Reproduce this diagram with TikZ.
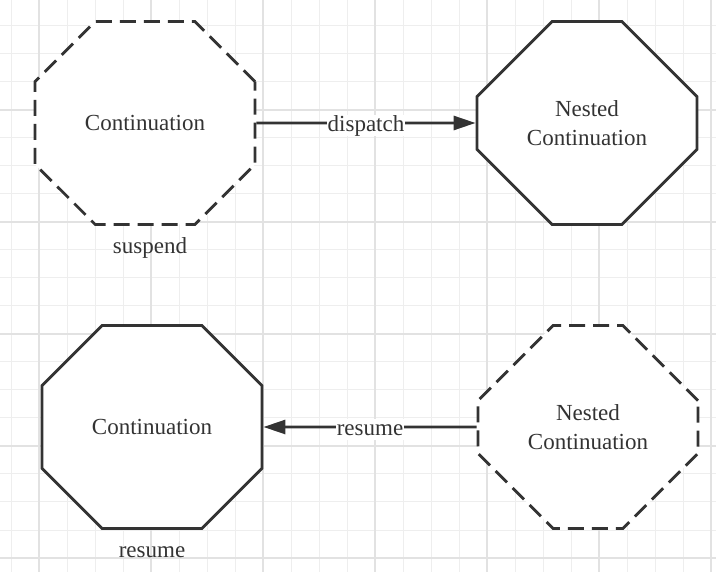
\documentclass[tikz,border=0pt]{standalone}
\usepackage{fontspec}
\setmainfont{Liberation Serif}
\usetikzlibrary{positioning,shapes.misc,arrows.meta}

\definecolor{inkgray}{HTML}{333333}
\definecolor{gridminor}{HTML}{EEEEEE}
\definecolor{gridmajor}{HTML}{E2E2E2}

\begin{document}
\begin{tikzpicture}[x=1pt, y=-1pt, >={Triangle[length=22pt,width=14pt]}]
      \tikzset{
	  octo/.style={chamfered rectangle, chamfered rectangle xsep=53.5pt, chamfered rectangle ysep=52.5pt, draw=inkgray, line width=2.8pt, fill=white, inner sep=0pt, minimum width=220pt, minimum height=203pt, text=inkgray, align=center, font=\fontsize{23}{29}\selectfont},
	  octodash/.style={octo, dash pattern=on 16pt off 8pt},
	  lbl/.style={text=inkgray, font=\fontsize{23}{29}\selectfont, inner sep=0pt, text height=16pt, text depth=5pt},
	  edgelbl/.style={lbl, fill=white, inner xsep=1pt, yshift=-3pt},
	  flow/.style={draw=inkgray, line width=2.8pt, ->}
      }

      \useasboundingbox (0,0) rectangle (716,572);
      %-----background grid
      \fill[white] (0,0) rectangle (716,572);
      \foreach \x in {11,39,...,711} \draw[gridminor, line width=1pt] (\x,0) -- (\x,572);
      \foreach \y in {26,54,...,570} \draw[gridminor, line width=1pt] (0,\y) -- (716,\y);
      \foreach \x in {39,151,...,711} \draw[gridmajor, line width=1.3pt] (\x,0) -- (\x,572);
      \foreach \y in {110,222,...,570} \draw[gridmajor, line width=1.3pt] (0,\y) -- (716,\y);

      %-----top row: suspend
      \node (c1) at (145,123) [octodash] {Continuation};
      \node (s1) [lbl, below=11pt of c1, xshift=5pt] {suspend};
      \node (n1) at (587,123) [octo] {Nested\\Continuation};

      %-----bottom row: resume
      \node (c2) at (152,427) [octo] {Continuation};
      \node (r2) [lbl, below=11pt of c2] {resume};
      \node (n2) at (588,427) [octodash] {Nested\\Continuation};

      \draw[flow] (c1) -- node[edgelbl] {dispatch} (n1);
      \draw[flow] (n2) -- node[edgelbl] {resume} (c2);
\end{tikzpicture}
\end{document}
